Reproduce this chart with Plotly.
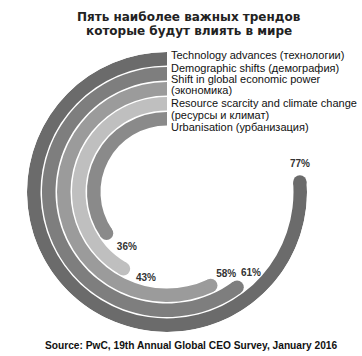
import numpy as np
import plotly.graph_objects as go

# ---- data ----
category_lines = [
    ["Technology advances (технологии)"],
    ["Demographic shifts (демография)"],
    ["Shift in global economic power", "(экономика)"],
    ["Resource scarcity and climate change", "(ресурсы и климат)"],
    ["Urbanisation (урбанизация)"],
]
values = [77, 61, 58, 43, 36]
value_labels = ["77%", "61%", "58%", "43%", "36%"]
title_lines = ["Пять наиболее важных трендов", "которые будут влиять в мире"]
source_text = "Source: PwC, 19th Annual Global CEO Survey, January 2016"

# ---- style ----
colors = ["#6b6b6b", "#7e7e7e", "#9b9b9b", "#bfbfbf", "#8a8a8a"]
R_OUT = 140.0
PITCH = 15.0
THICK = 13.5
label_dtheta = [4.3, 6.4, 7.0, 11.6, 14.4]
label_dr = [2.5, -1.5, -2.0, 1.0, -5.0]
legend_line_y_px = [[55], [68], [79], [90], [103], [115], [127]]
legend_line_y_px = [[55], [68], [79, 90], [103, 115], [127]]
title_y_px = [17, 31]

W, H = 362, 356
cx, cy = 167, 192

fig = go.Figure()

for i, (v, col) in enumerate(zip(values, colors)):
    r_out = R_OUT - PITCH * i
    base = r_out - THICK
    mid = r_out - THICK / 2
    end_deg = v * 3.6
    cap = np.degrees((THICK / 2) / mid)
    w = end_deg - cap
    fig.add_trace(go.Barpolar(
        r=[THICK], base=[base], theta=[w / 2], width=[w],
        marker=dict(color=col, line=dict(width=0)),
        hoverinfo="skip", showlegend=False,
    ))
    fig.add_trace(go.Scatterpolar(
        r=[mid], theta=[w], mode="markers",
        marker=dict(size=THICK, color=col, line=dict(width=0)),
        hoverinfo="skip", showlegend=False,
    ))
    fig.add_trace(go.Scatterpolar(
        r=[mid + label_dr[i]], theta=[end_deg + label_dtheta[i]], mode="text",
        text=[value_labels[i]],
        textfont=dict(family="Liberation Sans", size=10, color="#333333", weight="bold"),
        hoverinfo="skip", showlegend=False,
    ))

dx0 = (cx - R_OUT) / W
dx1 = (cx + R_OUT) / W
dy0 = (H - cy - R_OUT) / H
dy1 = (H - cy + R_OUT) / H

fig.update_layout(
    width=W, height=H, autosize=False,
    margin=dict(l=0, r=0, t=0, b=0),
    paper_bgcolor="white",
    polar=dict(
        domain=dict(x=[dx0, dx1], y=[dy0, dy1]),
        bgcolor="rgba(0,0,0,0)",
        radialaxis=dict(range=[0, R_OUT], visible=False),
        angularaxis=dict(visible=False, rotation=90, direction="counterclockwise"),
        barmode="overlay",
    ),
)

annotations = []
for lines, ys in zip(category_lines, legend_line_y_px):
    for line, ypx in zip(lines, ys):
        annotations.append(dict(
            x=169 / W, y=1 - ypx / H, xref="paper", yref="paper",
            xanchor="left", yanchor="middle",
            text=line, showarrow=False, align="left",
            font=dict(family="Liberation Sans", size=11, color="#111111"),
        ))

for line, ypx in zip(title_lines, title_y_px):
    annotations.append(dict(
        x=189 / W, y=1 - ypx / H, xref="paper", yref="paper",
        xanchor="center", yanchor="middle",
        text=line, showarrow=False,
        font=dict(family="DejaVu Sans", size=12, color="#222222", weight="bold"),
    ))
annotations.append(dict(
    x=191 / W, y=1 - 345 / H, xref="paper", yref="paper",
    xanchor="center", yanchor="middle",
    text=source_text, showarrow=False,
    font=dict(family="Liberation Sans", size=10.2, color="#111111", weight="bold"),
))
fig.update_layout(annotations=annotations)

fig.write_html(
    "out.html",
    config={"displayModeBar": False},
    post_script="document.body.style.margin='0';document.body.style.overflow='hidden';",
)
